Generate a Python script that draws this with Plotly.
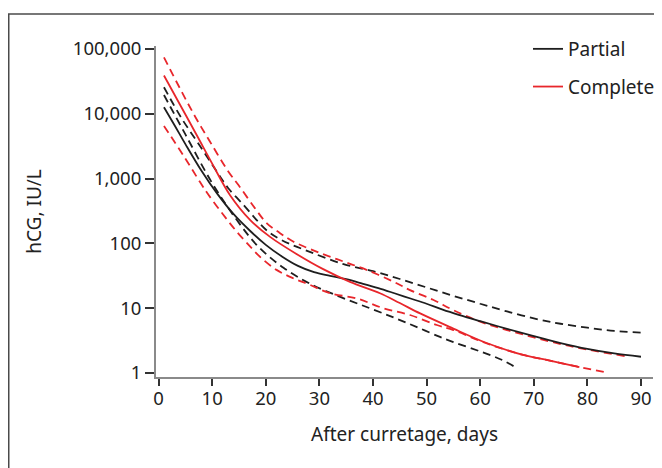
import plotly.graph_objects as go

# Days after curettage and log-read hCG values (IU/L)
partial_x = [1, 3, 5, 8, 11, 14, 17, 20, 23, 26, 29, 32, 35, 38, 41, 44, 47, 50, 53, 56, 60, 65, 70, 75, 80, 85, 90]
partial_y = [12600, 6600, 3400, 1320, 575, 282, 158, 95, 63, 45, 36, 31.6, 28, 24, 20.4, 17, 14.1, 11.7, 9.5, 7.9, 6.3, 4.8, 3.7, 2.9, 2.35, 2.0, 1.78]
partial_hi_x = [1, 4.3, 7.6, 11.1, 13, 16, 18.3, 20.2, 23, 28.2, 34.5, 40, 45, 50, 55, 60, 65, 71.2, 75, 80, 85, 90]
partial_hi_y = [25700, 8500, 3300, 1200, 710, 380, 229, 158, 112, 74, 47.9, 37.2, 28.2, 20.9, 15.5, 11.7, 8.9, 6.6, 5.75, 5.0, 4.45, 4.2]
partial_lo_x = [1, 5, 10, 14.6, 18.6, 23.3, 28.2, 34, 39.4, 44, 48.2, 52.5, 55, 60, 64, 67]
partial_lo_y = [19500, 4800, 850, 229, 89, 42, 24, 14.8, 10, 7.1, 5.1, 3.6, 3.0, 2.15, 1.6, 1.17]

complete_x = [1, 4, 7.1, 10, 13.3, 17.1, 20.8, 25.8, 30.7, 35.7, 41.3, 45, 48.8, 54.4, 61.2, 68, 73, 78.5]
complete_y = [39000, 13800, 4700, 1700, 560, 229, 126, 68, 40, 25.5, 17, 12, 8.3, 5.1, 2.9, 1.9, 1.55, 1.23]
complete_hi_x = [1, 4, 6.8, 9.6, 13, 14.9, 18, 20.2, 22.6, 25.1, 30.1, 34.5, 38.8, 43.8, 46.9, 51.2, 55, 60, 65, 70, 75, 80, 87]
complete_hi_y = [74000, 24500, 9100, 3700, 1290, 795, 347, 204, 145, 107, 71, 52.5, 39, 25.7, 19, 13.5, 9.3, 6.2, 4.6, 3.55, 2.8, 2.3, 1.82]
complete_lo_x = [1, 4.6, 7.7, 9.3, 12, 14.6, 17.1, 19.2, 22, 25.1, 28.2, 32, 37, 41.9, 46.9, 51.9, 55, 61, 68, 73, 78, 84]
complete_lo_y = [6500, 2290, 890, 562, 282, 151, 89, 59, 39, 29, 23, 17, 14.1, 10, 7.85, 5.5, 4.6, 2.9, 1.9, 1.55, 1.26, 1.0]

x_ticks = [0, 10, 20, 30, 40, 50, 60, 70, 80, 90]
y_ticks = [1, 10, 100, 1000, 10000, 100000]
y_tick_text = ["1", "10", "100", "1,000", "10,000", "100,000"]

BLACK = "#1e1e1e"
RED = "#e8262b"
FONT = "Noto Sans"
TXT = "#222222"

fig = go.Figure()

def add(x, y, color, dash, name=None, group=None):
    fig.add_trace(go.Scatter(
        x=x, y=y, mode="lines", line_shape="spline",
        line=dict(color=color, width=1.8, dash=dash, smoothing=1.0),
        name=name, showlegend=name is not None, legendgroup=group,
        hoverinfo="skip",
    ))

add(partial_hi_x, partial_hi_y, BLACK, "8px,5px")
add(partial_lo_x, partial_lo_y, BLACK, "8px,5px")
add(complete_hi_x, complete_hi_y, RED, "8px,5px")
add(complete_lo_x, complete_lo_y, RED, "8px,5px")
add(partial_x, partial_y, BLACK, "solid", "Partial", "p")
add(complete_x, complete_y, RED, "solid", "Complete", "c")

# page body has an 8px margin: work in screen pixels, convert to figure pixels
OFF = 8
W, H = 662 - OFF, 468 - OFF
S_L, S_R, S_T, S_B = 156, 653, 46, 377  # plot area in screen pixels
L, R, T, B = S_L - OFF, W - (S_R - OFF), S_T - OFF, H - (S_B - OFF)
pw, ph = W - L - R, H - T - B

def px_x(sp):
    return (sp - OFF - L) / pw

def px_y(sp):
    return (H - B - (sp - OFF)) / ph

def cx(sp):
    return (sp - OFF) / W

def cy(sp):
    return 1 - (sp - OFF) / H

fig.update_layout(
    width=W, height=H,
    margin=dict(l=L, r=R, t=T, b=B, pad=0, autoexpand=False),
    paper_bgcolor="white", plot_bgcolor="white",
    font=dict(family=FONT, size=19, color=TXT),
    showlegend=True,
    legend=dict(
        xref="container", yref="container",
        x=cx(528), y=cy(30), xanchor="left", yanchor="top",
        font=dict(family=FONT, size=19, color=TXT),
        bgcolor="rgba(0,0,0,0)", tracegroupgap=10,
        traceorder="grouped",
    ),
    xaxis=dict(
        range=[-0.485, 92.24], tickvals=x_ticks, ticks="outside", ticklen=7,
        tickwidth=1.5, tickcolor="#333333", showline=True, linecolor="#8a8a8a",
        linewidth=2, showgrid=False, zeroline=False, ticklabelstandoff=-3,
        tickfont=dict(family=FONT, size=18.5, color=TXT),
        title=dict(text="After curretage, days", standoff=18,
                   font=dict(family=FONT, size=19, color=TXT)),
    ),
    yaxis=dict(
        type="log", range=[-0.062, 5.046], tickvals=y_ticks, ticktext=y_tick_text,
        ticks="outside", ticklen=9, tickwidth=1.5, tickcolor="#333333",
        showline=True, linecolor="#8a8a8a", linewidth=2, showgrid=False,
        zeroline=False,
        tickfont=dict(family=FONT, size=18.5, color=TXT),
        title=dict(text="hCG, IU/L", standoff=26,
                   font=dict(family=FONT, size=19, color=TXT)),
    ),
    shapes=[
        dict(type="line", xref="paper", yref="paper", x0=px_x(8), x1=px_x(662),
             y0=px_y(14), y1=px_y(14), line=dict(color="#4a4a4a", width=1.5)),
        dict(type="line", xref="paper", yref="paper", x0=px_x(8.75), x1=px_x(8.75),
             y0=px_y(14), y1=px_y(468), line=dict(color="#4a4a4a", width=1.5)),
    ],
)

fig.write_html("out.html")
